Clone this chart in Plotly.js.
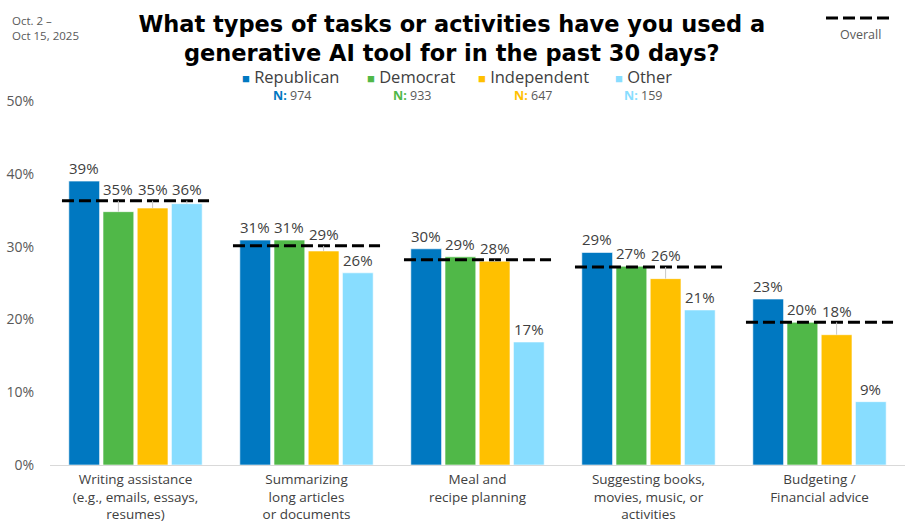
<!DOCTYPE html>
<html>
<head>
<meta charset="utf-8">
<script src="https://cdn.plot.ly/plotly-3.0.1.min.js"></script>
<style>html,body{margin:0;padding:0;background:#fff;}#chart{width:909px;height:525px;}</style>
</head>
<body>
<div id="chart"></div>
<script>
const categories = [
  "Writing assistance<br>(e.g., emails, essays,<br>resumes)",
  "Summarizing<br>long articles<br>or documents",
  "Meal and<br>recipe planning",
  "Suggesting books,<br>movies, music, or<br>activities",
  "Budgeting /<br>Financial advice"
];
const seriesNames = ["Republican", "Democrat", "Independent", "Other"];
const seriesN = ["974", "933", "647", "159"];
const republican = [39.0, 30.9, 29.7, 29.2, 22.8];
const democrat   = [34.8, 30.9, 28.6, 27.3, 19.6];
const independent= [35.3, 29.4, 28.0, 25.6, 17.9];
const other      = [35.9, 26.4, 16.9, 21.3, 8.7];
const overall    = [36.3, 30.1, 28.2, 27.2, 19.6];
const yTicks = [0, 10, 20, 30, 40, 50];

const colors = ["#0078C1", "#50B848", "#FFC000", "#88DDFF"];
const allSeries = [republican, democrat, independent, other];
const FONT = "Open Sans, Noto Sans, sans-serif";
const TFONT = "DejaVu Sans, Open Sans, sans-serif";
const xs = categories.map((c, i) => i);

const bargap = 0.2;
const gw = 1 - bargap;
const offs = [-3, -1, 1, 3].map(k => k * gw / 8);

const traces = allSeries.map((vals, s) => ({
  type: "bar",
  name: seriesNames[s],
  x: xs,
  y: vals,
  showlegend: false,
  marker: {color: colors[s], line: {color: "rgba(255,255,255,0.6)", width: 1}},
  hoverinfo: "skip"
}));

// overall dashed segments
const ox = [], oy = [];
overall.forEach((v, i) => { ox.push(i - 0.43, i + 0.43, null); oy.push(v, v, null); });
traces.push({
  type: "scatter", mode: "lines", x: ox, y: oy, showlegend: false, name: "Overall",
  line: {color: "#000", width: 3, dash: "12px,5px"}, hoverinfo: "skip"
});

const pxPerUnit = 364 / 50;
const px2x = p => (p - 50) / 855;
const px2y = p => (465 - p) / 364;
const annotations = [];
allSeries.forEach((vals, s) => {
  vals.forEach((v, i) => {
    let labelY = v + 13 / pxPerUnit;
    let raised = false;
    if (Math.abs(labelY - overall[i]) < 1.7) { labelY = overall[i] + 11.5 / pxPerUnit; raised = true; }
    annotations.push({
      x: i + offs[s], y: v, xref: "x", yref: "y",
      text: Math.round(v) + "%",
      showarrow: true, ax: 0, ay: -(labelY - v) * pxPerUnit,
      arrowhead: 0, arrowwidth: 1, standoff: 0,
      arrowcolor: raised ? "#c8c8c8" : "rgba(0,0,0,0)",
      font: {family: FONT, size: 15, color: "#404040"}
    });
  });
});

// custom legend: series names and N labels
const legX = [241, 366, 477, 614];
const nX = [292, 412, 533, 643];
seriesNames.forEach((nm, s) => {
  annotations.push({
    xref: "paper", yref: "paper", x: px2x(legX[s]), y: px2y(76),
    xanchor: "left", yanchor: "middle", showarrow: false, borderpad: 0,
    text: '<span style="color:' + colors[s] + ';font-size:13px">■</span> ' + nm,
    font: {family: FONT, size: 16.5, color: "#404040"}
  });
  annotations.push({
    xref: "paper", yref: "paper", x: px2x(nX[s]), y: px2y(95),
    xanchor: "center", yanchor: "middle", showarrow: false, borderpad: 0,
    text: '<b><span style="color:' + colors[s] + '">N:</span></b> ' + seriesN[s],
    font: {family: FONT, size: 12.5, color: "#595959"}
  });
});

// date
annotations.push({
  xref: "paper", yref: "paper", x: px2x(10), y: px2y(28),
  xanchor: "left", yanchor: "middle", align: "left", showarrow: false,
  text: "Oct. 2 –<br>Oct 15, 2025",
  font: {family: FONT, size: 11.5, color: "#595959"}
});
// overall legend text
annotations.push({
  xref: "paper", yref: "paper", x: px2x(860), y: px2y(34),
  xanchor: "center", yanchor: "middle", showarrow: false,
  text: "Overall", font: {family: FONT, size: 12.5, color: "#595959"}
});

const shapes = [{
  type: "line", xref: "paper", yref: "paper",
  x0: px2x(826), x1: px2x(892), y0: px2y(18), y1: px2y(18),
  line: {color: "#000", width: 3, dash: "12px,5px"}
}];

const layout = {
  width: 909, height: 525,
  margin: {l: 50, r: 4, t: 101, b: 60},
  paper_bgcolor: "#fff", plot_bgcolor: "#fff",
  font: {family: FONT, color: "#404040"},
  barmode: "group", bargap: bargap, bargroupgap: 0.1,
  showlegend: false,
  title: {
    text: "<b>What types of tasks or activities have you used a<br>generative AI tool for in the past 30 days?</b>",
    font: {family: TFONT, size: 22.5, color: "#000"},
    x: 0.497, xanchor: "center", y: 1 - 32 / 525, yanchor: "middle", yref: "container"
  },
  xaxis: {
    range: [-0.5, 4.5], tickvals: xs, ticktext: categories,
    showgrid: false, zeroline: false, showline: true, linecolor: "#d9d9d9", linewidth: 1,
    ticks: "outside", ticklen: 2, tickcolor: "rgba(0,0,0,0)",
    tickfont: {family: FONT, size: 13.5, color: "#404040"}, fixedrange: true
  },
  yaxis: {
    range: [0, 50], tickvals: yTicks, ticktext: yTicks.map(t => t + "%"),
    showgrid: false, zeroline: false, showline: false,
    ticks: "outside", ticklen: 12, tickcolor: "rgba(0,0,0,0)",
    tickfont: {family: FONT, size: 14, color: "#595959"}, fixedrange: true
  },
  annotations: annotations,
  shapes: shapes
};

Plotly.newPlot("chart", traces, layout, {displayModeBar: false, staticPlot: true});
</script>
</body>
</html>
